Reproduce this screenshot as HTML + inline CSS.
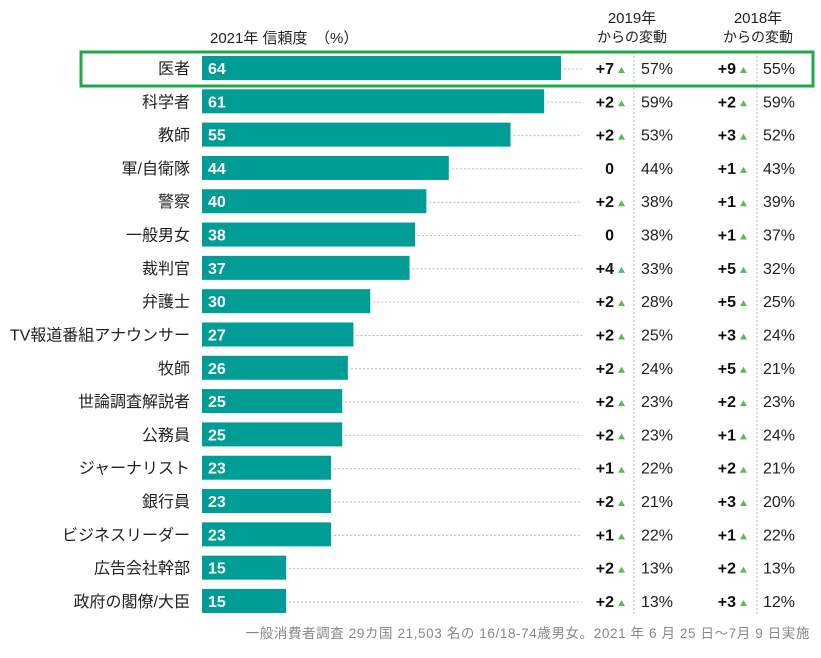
<!DOCTYPE html>
<html><head><meta charset="utf-8">
<style>
body{margin:0;background:#fff;width:821px;height:653px;overflow:hidden;font-family:"Liberation Sans","Noto Sans CJK JP",sans-serif;}
svg text{font-family:"Liberation Sans","Noto Sans CJK JP",sans-serif;}
</style></head>
<body>
<svg id="chart" width="821" height="653" xmlns="http://www.w3.org/2000/svg">
<text x="210" y="43" font-size="15" fill="#222">2021年 信頼度　（%）</text>
<text x="632" y="23" font-size="15" fill="#222" text-anchor="middle">2019年</text>
<text x="632" y="42" font-size="14" fill="#222" text-anchor="middle">からの変動</text>
<text x="758" y="23" font-size="15" fill="#222" text-anchor="middle">2018年</text>
<text x="758" y="42" font-size="14" fill="#222" text-anchor="middle">からの変動</text>
<line x1="634" y1="52" x2="634" y2="615" stroke="#bbb" stroke-dasharray="2,2"/>
<line x1="757" y1="52" x2="757" y2="615" stroke="#bbb" stroke-dasharray="2,2"/>
<g id="rows"></g>
<rect x="81" y="52" width="732" height="34" fill="none" stroke="#1fa84a" stroke-width="3"/>
<text x="810" y="638" font-size="13.5" letter-spacing="0.6" fill="#888" text-anchor="end">一般消費者調査 29カ国 21,503 名の 16/18-74歳男女。2021 年 6 月 25 日～7月 9 日実施</text>
</svg>
<script>
const categories=["医者","科学者","教師","軍/自衛隊","警察","一般男女","裁判官","弁護士","TV報道番組アナウンサー","牧師","世論調査解説者","公務員","ジャーナリスト","銀行員","ビジネスリーダー","広告会社幹部","政府の閣僚/大臣"];
const trust2021=[64,61,55,44,40,38,37,30,27,26,25,25,23,23,23,15,15];
const change2019=[7,2,2,0,2,0,4,2,2,2,2,2,1,2,1,2,2];
const trust2019=[57,59,53,44,38,38,33,28,25,24,23,23,22,21,22,13,13];
const change2018=[9,2,3,1,1,1,5,5,3,5,2,1,2,3,1,2,3];
const trust2018=[55,59,52,43,39,37,32,25,24,21,23,24,21,20,22,13,12];

const NS="http://www.w3.org/2000/svg";
const g=document.getElementById('rows');
const x0=202, scale=(561-202)/64;
const xs=v=>x0+v*scale;
const ys=i=>68+i*33.31;
function mk(tag,attrs,text){const e=document.createElementNS(NS,tag);for(const k in attrs)e.setAttribute(k,attrs[k]);if(text!==undefined)e.textContent=text;g.appendChild(e);return e;}
function chg(v,xr,y,name){
  const t=mk('text',{x:xr,y:y+6,'font-size':16,'font-weight':'bold',fill:'#111','text-anchor':'end'},v>0?'+'+v:String(v));
  
  
  if(v>0){const p=mk('polygon',{points:`${xr+4},${y+5} ${xr+11},${y+5} ${xr+7.5},${y-1}`,fill:'#5cb85c'});
    
    }
}
categories.forEach((c,i)=>{
  const y=ys(i);
  const l=mk('text',{x:190,y:y+6,'font-size':16,fill:'#222','text-anchor':'end'},c);
  
  
  const r=mk('rect',{x:x0,y:y-12,width:xs(trust2021[i])-x0,height:24,fill:'#009c96'});
  
  
  const v=mk('text',{x:x0+6,y:y+6,'font-size':16,'font-weight':'bold',fill:'#fff'},trust2021[i]);
  
  
  const d=mk('line',{x1:xs(trust2021[i])+3,y1:y+1,x2:582,y2:y+1,stroke:'#bbb','stroke-dasharray':'2,2'});
  
  
  chg(change2019[i],614,y,'change-2019');
  const p1=mk('text',{x:641,y:y+6,'font-size':16,fill:'#222'},trust2019[i]+'%');
  
  
  chg(change2018[i],736,y,'change-2018');
  const p2=mk('text',{x:763,y:y+6,'font-size':16,fill:'#222'},trust2018[i]+'%');
  
  
});
</script>
</body></html>
